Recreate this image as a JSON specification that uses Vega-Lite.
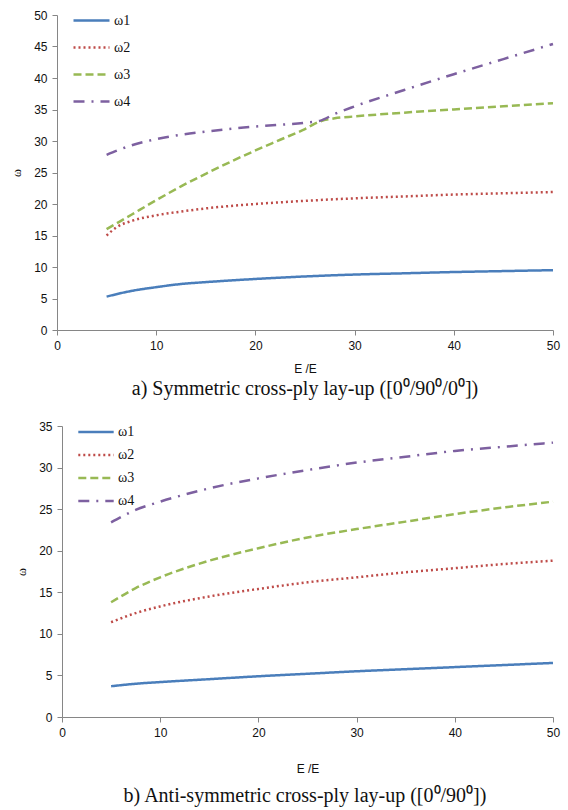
{
  "$schema": "https://vega.github.io/schema/vega-lite/v6.json",
  "padding": {"top": 1, "left": 10, "right": 3, "bottom": 2},
  "background": "white",
  "columns": 1,
  "align": "none",
  "spacing": 17,
  "config": {
    "view": {"stroke": null},
    "axis": {
      "grid": false,
      "domainColor": "#868686",
      "tickColor": "#868686",
      "tickSize": 5,
      "labelFlush": false,
      "labelFont": "Liberation Sans",
      "labelFontSize": 12,
      "labelColor": "#111",
      "titleFont": "Liberation Sans",
      "titleFontSize": 12,
      "titleFontWeight": "normal",
      "titleColor": "#111"
    },
    "legend": {
      "labelFont": "Liberation Serif",
      "labelFontSize": 14,
      "labelColor": "#111",
      "symbolType": "stroke",
      "symbolStrokeWidth": 2.5,
      "symbolSize": 1296,
      "labelOffset": 3,
      "title": null
    }
  },
  "datasets": {
    "sym": [
      {"ratio": 5, "omega": 5.3, "mode": "ω1"},
      {"ratio": 7.5, "omega": 6.2, "mode": "ω1"},
      {"ratio": 10, "omega": 6.8, "mode": "ω1"},
      {"ratio": 12.5, "omega": 7.3, "mode": "ω1"},
      {"ratio": 15, "omega": 7.6, "mode": "ω1"},
      {"ratio": 20, "omega": 8.1, "mode": "ω1"},
      {"ratio": 25, "omega": 8.5, "mode": "ω1"},
      {"ratio": 30, "omega": 8.8, "mode": "ω1"},
      {"ratio": 35, "omega": 9.0, "mode": "ω1"},
      {"ratio": 40, "omega": 9.2, "mode": "ω1"},
      {"ratio": 45, "omega": 9.35, "mode": "ω1"},
      {"ratio": 50, "omega": 9.5, "mode": "ω1"},
      {"ratio": 5, "omega": 15.0, "mode": "ω2"},
      {"ratio": 6, "omega": 16.3, "mode": "ω2"},
      {"ratio": 7.5, "omega": 17.3, "mode": "ω2"},
      {"ratio": 10, "omega": 18.2, "mode": "ω2"},
      {"ratio": 12.5, "omega": 18.8, "mode": "ω2"},
      {"ratio": 15, "omega": 19.3, "mode": "ω2"},
      {"ratio": 20, "omega": 20.0, "mode": "ω2"},
      {"ratio": 25, "omega": 20.5, "mode": "ω2"},
      {"ratio": 30, "omega": 20.9, "mode": "ω2"},
      {"ratio": 35, "omega": 21.2, "mode": "ω2"},
      {"ratio": 40, "omega": 21.5, "mode": "ω2"},
      {"ratio": 45, "omega": 21.7, "mode": "ω2"},
      {"ratio": 50, "omega": 21.9, "mode": "ω2"},
      {"ratio": 5, "omega": 16.0, "mode": "ω3"},
      {"ratio": 7.5, "omega": 18.3, "mode": "ω3"},
      {"ratio": 10, "omega": 20.6, "mode": "ω3"},
      {"ratio": 12.5, "omega": 22.8, "mode": "ω3"},
      {"ratio": 15, "omega": 24.8, "mode": "ω3"},
      {"ratio": 17.5, "omega": 26.7, "mode": "ω3"},
      {"ratio": 20, "omega": 28.5, "mode": "ω3"},
      {"ratio": 22.5, "omega": 30.2, "mode": "ω3"},
      {"ratio": 25, "omega": 31.9, "mode": "ω3"},
      {"ratio": 26.5, "omega": 33.1, "mode": "ω3"},
      {"ratio": 28, "omega": 33.6, "mode": "ω3"},
      {"ratio": 30, "omega": 33.9, "mode": "ω3"},
      {"ratio": 35, "omega": 34.5, "mode": "ω3"},
      {"ratio": 40, "omega": 35.0, "mode": "ω3"},
      {"ratio": 45, "omega": 35.5, "mode": "ω3"},
      {"ratio": 50, "omega": 36.0, "mode": "ω3"},
      {"ratio": 5, "omega": 27.8, "mode": "ω4"},
      {"ratio": 7.5, "omega": 29.3, "mode": "ω4"},
      {"ratio": 10, "omega": 30.3, "mode": "ω4"},
      {"ratio": 12.5, "omega": 31.0, "mode": "ω4"},
      {"ratio": 15, "omega": 31.5, "mode": "ω4"},
      {"ratio": 20, "omega": 32.3, "mode": "ω4"},
      {"ratio": 25, "omega": 32.9, "mode": "ω4"},
      {"ratio": 26.5, "omega": 33.2, "mode": "ω4"},
      {"ratio": 28, "omega": 34.3, "mode": "ω4"},
      {"ratio": 30, "omega": 35.5, "mode": "ω4"},
      {"ratio": 35, "omega": 38.1, "mode": "ω4"},
      {"ratio": 40, "omega": 40.6, "mode": "ω4"},
      {"ratio": 45, "omega": 43.0, "mode": "ω4"},
      {"ratio": 50, "omega": 45.4, "mode": "ω4"}
    ],
    "anti": [
      {"ratio": 5, "omega": 3.7, "mode": "ω1"},
      {"ratio": 7.5, "omega": 4.0, "mode": "ω1"},
      {"ratio": 10, "omega": 4.2, "mode": "ω1"},
      {"ratio": 15, "omega": 4.55, "mode": "ω1"},
      {"ratio": 20, "omega": 4.9, "mode": "ω1"},
      {"ratio": 25, "omega": 5.2, "mode": "ω1"},
      {"ratio": 30, "omega": 5.5, "mode": "ω1"},
      {"ratio": 35, "omega": 5.75, "mode": "ω1"},
      {"ratio": 40, "omega": 6.0, "mode": "ω1"},
      {"ratio": 45, "omega": 6.25, "mode": "ω1"},
      {"ratio": 50, "omega": 6.5, "mode": "ω1"},
      {"ratio": 5, "omega": 11.4, "mode": "ω2"},
      {"ratio": 7.5, "omega": 12.5, "mode": "ω2"},
      {"ratio": 10, "omega": 13.3, "mode": "ω2"},
      {"ratio": 15, "omega": 14.5, "mode": "ω2"},
      {"ratio": 20, "omega": 15.4, "mode": "ω2"},
      {"ratio": 25, "omega": 16.2, "mode": "ω2"},
      {"ratio": 30, "omega": 16.8, "mode": "ω2"},
      {"ratio": 35, "omega": 17.4, "mode": "ω2"},
      {"ratio": 40, "omega": 17.9, "mode": "ω2"},
      {"ratio": 45, "omega": 18.4, "mode": "ω2"},
      {"ratio": 50, "omega": 18.8, "mode": "ω2"},
      {"ratio": 5, "omega": 13.8, "mode": "ω3"},
      {"ratio": 7.5, "omega": 15.5, "mode": "ω3"},
      {"ratio": 10, "omega": 16.8, "mode": "ω3"},
      {"ratio": 15, "omega": 18.8, "mode": "ω3"},
      {"ratio": 20, "omega": 20.3, "mode": "ω3"},
      {"ratio": 25, "omega": 21.6, "mode": "ω3"},
      {"ratio": 30, "omega": 22.6, "mode": "ω3"},
      {"ratio": 35, "omega": 23.5, "mode": "ω3"},
      {"ratio": 40, "omega": 24.4, "mode": "ω3"},
      {"ratio": 45, "omega": 25.2, "mode": "ω3"},
      {"ratio": 50, "omega": 25.9, "mode": "ω3"},
      {"ratio": 5, "omega": 23.4, "mode": "ω4"},
      {"ratio": 7.5, "omega": 24.9, "mode": "ω4"},
      {"ratio": 10, "omega": 25.9, "mode": "ω4"},
      {"ratio": 15, "omega": 27.5, "mode": "ω4"},
      {"ratio": 20, "omega": 28.7, "mode": "ω4"},
      {"ratio": 25, "omega": 29.7, "mode": "ω4"},
      {"ratio": 30, "omega": 30.6, "mode": "ω4"},
      {"ratio": 35, "omega": 31.3, "mode": "ω4"},
      {"ratio": 40, "omega": 32.0, "mode": "ω4"},
      {"ratio": 45, "omega": 32.5, "mode": "ω4"},
      {"ratio": 50, "omega": 33.0, "mode": "ω4"}
    ]
  },
  "concat": [
    {
      "width": 496,
      "height": 315,
      "data": {"name": "sym"},
      "title": {"text": "a) Symmetric cross-ply lay-up ([0⁰/90⁰/0⁰])", "orient": "bottom", "font": "Liberation Serif", "fontSize": 20, "fontWeight": "normal", "color": "#111", "offset": 5},
      "mark": {"type": "line", "strokeWidth": 2.5, "interpolate": "monotone"},
      "encoding": {
        "x": {"field": "ratio", "type": "quantitative", "title": "E /E", "scale": {"domain": [0, 50], "nice": false}, "axis": {"values": [0, 10, 20, 30, 40, 50], "titlePadding": 12, "labelPadding": 5}},
        "y": {"field": "omega", "type": "quantitative", "title": "ω", "scale": {"domain": [0, 50], "nice": false}, "axis": {"values": [0, 5, 10, 15, 20, 25, 30, 35, 40, 45, 50], "titleFont": "Liberation Serif", "titlePadding": 10, "labelPadding": 5}},
        "color": {"field": "mode", "type": "nominal", "scale": {"domain": ["ω1", "ω2", "ω3", "ω4"], "range": ["#4A7EBB", "#BE4B48", "#98B954", "#7D60A0"]}, "legend": {"orient": "none", "legendX": 15, "legendY": -14, "rowPadding": 0}},
        "strokeDash": {"field": "mode", "type": "nominal", "scale": {"domain": ["ω1", "ω2", "ω3", "ω4"], "range": [[1, 0], [2, 3], [8, 4], [11, 7, 2, 7]]}, "legend": {"orient": "none", "legendX": 15, "legendY": -14, "rowPadding": 0}}
      }
    },
    {
      "width": 496,
      "height": 291,
      "data": {"name": "anti"},
      "title": {"text": "b) Anti-symmetric cross-ply lay-up ([0⁰/90⁰])", "orient": "bottom", "font": "Liberation Serif", "fontSize": 20, "fontWeight": "normal", "color": "#111", "offset": 12},
      "mark": {"type": "line", "strokeWidth": 2.5, "interpolate": "monotone"},
      "encoding": {
        "x": {"field": "ratio", "type": "quantitative", "title": "E /E", "scale": {"domain": [0, 50], "nice": false, "range": [5, 496]}, "axis": {"values": [0, 10, 20, 30, 40, 50], "titlePadding": 25, "labelPadding": 5}},
        "y": {"field": "omega", "type": "quantitative", "title": "ω", "scale": {"domain": [0, 35], "nice": false}, "axis": {"values": [0, 5, 10, 15, 20, 25, 30, 35], "offset": -5, "titleFont": "Liberation Serif", "titlePadding": 10, "labelPadding": 5}},
        "color": {"field": "mode", "type": "nominal", "scale": {"domain": ["ω1", "ω2", "ω3", "ω4"], "range": ["#4A7EBB", "#BE4B48", "#98B954", "#7D60A0"]}, "legend": {"orient": "none", "legendX": 23, "legendY": -10, "rowPadding": 0, "symbolSize": 870, "symbolType": "M-1.2,0H1.2", "labelOffset": 6}},
        "strokeDash": {"field": "mode", "type": "nominal", "scale": {"domain": ["ω1", "ω2", "ω3", "ω4"], "range": [[1, 0], [2, 3], [8, 4], [11, 7, 2, 7]]}, "legend": {"orient": "none", "legendX": 23, "legendY": -10, "rowPadding": 0, "symbolSize": 870, "symbolType": "M-1.2,0H1.2", "labelOffset": 6}}
      }
    }
  ],
  "resolve": {"scale": {"color": "independent", "strokeDash": "independent"}, "legend": {"color": "independent", "strokeDash": "independent"}}
}
